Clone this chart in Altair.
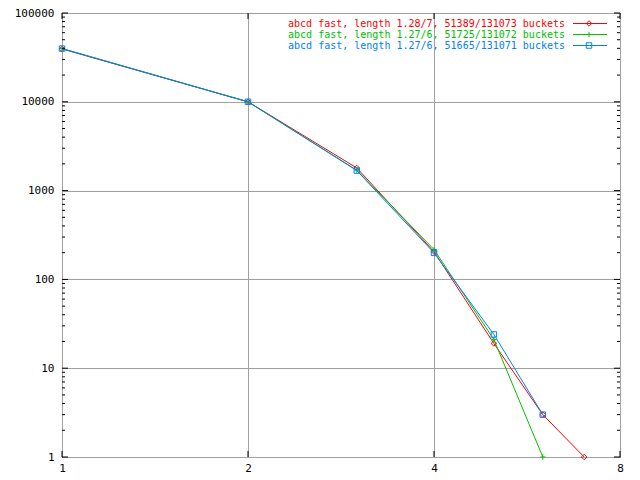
import altair as alt
import pandas as pd

# ---- data ----
lengths_red = [1, 2, 3, 4, 5, 6, 7]
counts_red = [39361, 10000, 1800, 205, 19, 3, 1]
lengths_green = [1, 2, 3, 4, 5, 6]
counts_green = [39786, 10000, 1700, 217, 21, 1]
lengths_blue = [1, 2, 3, 4, 5, 6]
counts_blue = [39759, 10000, 1680, 199, 24, 3]

series_names = [
    "abcd fast, length 1.28/7, 51389/131073 buckets",
    "abcd fast, length 1.27/6, 51725/131072 buckets",
    "abcd fast, length 1.27/6, 51665/131071 buckets",
]
series_colors = ["#ff0000", "#00c000", "#0080ff"]
series_shapes = [
    "M0,-1L1,0L0,1L-1,0Z",        # diamond
    "M-1,0L1,0M0,-1L0,1",         # plus
    "M-1,-1L1,-1L1,1L-1,1Z",      # square
]
series_lengths = [lengths_red, lengths_green, lengths_blue]
series_counts = [counts_red, counts_green, counts_blue]

x_major = [1, 2, 4, 8]
y_major = [1, 10, 100, 1000, 10000, 100000]
y_minor = [k * 10 ** e for e in range(5) for k in range(2, 10)]

W, H = 558, 444
FONT = "DejaVu Sans Mono"

xscale = alt.Scale(type="log", base=2, domain=[1, 8], nice=False)
yscale = alt.Scale(type="log", domain=[1, 100000], nice=False)


def X(field):
    return alt.X(field, type="quantitative", scale=xscale,
                 axis=alt.Axis(values=x_major, format="d", title=None, grid=True,
                               labelPadding=5, labelFlush=False))


def Y(field):
    return alt.Y(field, type="quantitative", scale=yscale,
                 axis=alt.Axis(values=y_major, format="d", title=None, grid=True,
                               labelPadding=8, labelFlush=False))


layers = []

# data lines and points, red first so blue ends on top
for name, col, shp, xs, ys in zip(series_names, series_colors, series_shapes,
                                  series_lengths, series_counts):
    d = pd.DataFrame({"length": xs, "count": ys, "series": name})
    base = alt.Chart(d)
    layers.append(base.mark_line(color=col, strokeWidth=1).encode(x=X("length"), y=Y("count")))
    layers.append(base.mark_point(shape=shp, size=30, filled=False, color=col, strokeWidth=1,
                                  opacity=1).encode(x=X("length"), y=Y("count")))

# inward ticks (gnuplot style), on all four sides
ymaj = alt.Chart(pd.DataFrame({"v": y_major}))
ymin = alt.Chart(pd.DataFrame({"v": y_minor}))
xmaj = alt.Chart(pd.DataFrame({"v": x_major}))
for src, ln in ((ymaj, 6), (ymin, 3)):
    layers.append(src.mark_rule(color="black", strokeWidth=1).encode(
        y=Y("v"), x=alt.value(0), x2=alt.value(ln)))
    layers.append(src.mark_rule(color="black", strokeWidth=1).encode(
        y=Y("v"), x=alt.value(W - ln), x2=alt.value(W)))
layers.append(xmaj.mark_rule(color="black", strokeWidth=1).encode(
    x=X("v"), y=alt.value(H - 6), y2=alt.value(H)))
layers.append(xmaj.mark_rule(color="black", strokeWidth=1).encode(
    x=X("v"), y=alt.value(0), y2=alt.value(6)))

# key (top right, gnuplot style)
key_rows = [10.5, 21.5, 32.5]
for name, col, shp, ly in zip(series_names, series_colors, series_shapes, key_rows):
    kd = alt.Chart(pd.DataFrame({"label": [name]}))
    layers.append(kd.mark_text(align="right", baseline="middle", font=FONT, fontSize=10,
                               color=col).encode(text="label:N", x=alt.value(503), y=alt.value(ly)))
    layers.append(kd.mark_rule(color=col, strokeWidth=1).encode(
        x=alt.value(511), x2=alt.value(545), y=alt.value(ly)))
    layers.append(kd.mark_point(shape=shp, size=30, filled=False, color=col, strokeWidth=1,
                                opacity=1).encode(x=alt.value(527), y=alt.value(ly)))

chart = alt.layer(*layers).properties(
    width=W, height=H,
    autosize=alt.AutoSizeParams(type="none"),
    padding={"left": 54, "top": 5, "right": 10, "bottom": 20},
    background="white",
).configure_view(
    stroke="black", strokeWidth=1
).configure_axis(
    labelFont=FONT, labelFontSize=11, labelColor="black",
    domain=False, ticks=False,
    gridColor="#a0a0a0", gridWidth=1, gridOpacity=1,
)

chart.save("out.html", embed_options={"renderer": "svg", "actions": False})
